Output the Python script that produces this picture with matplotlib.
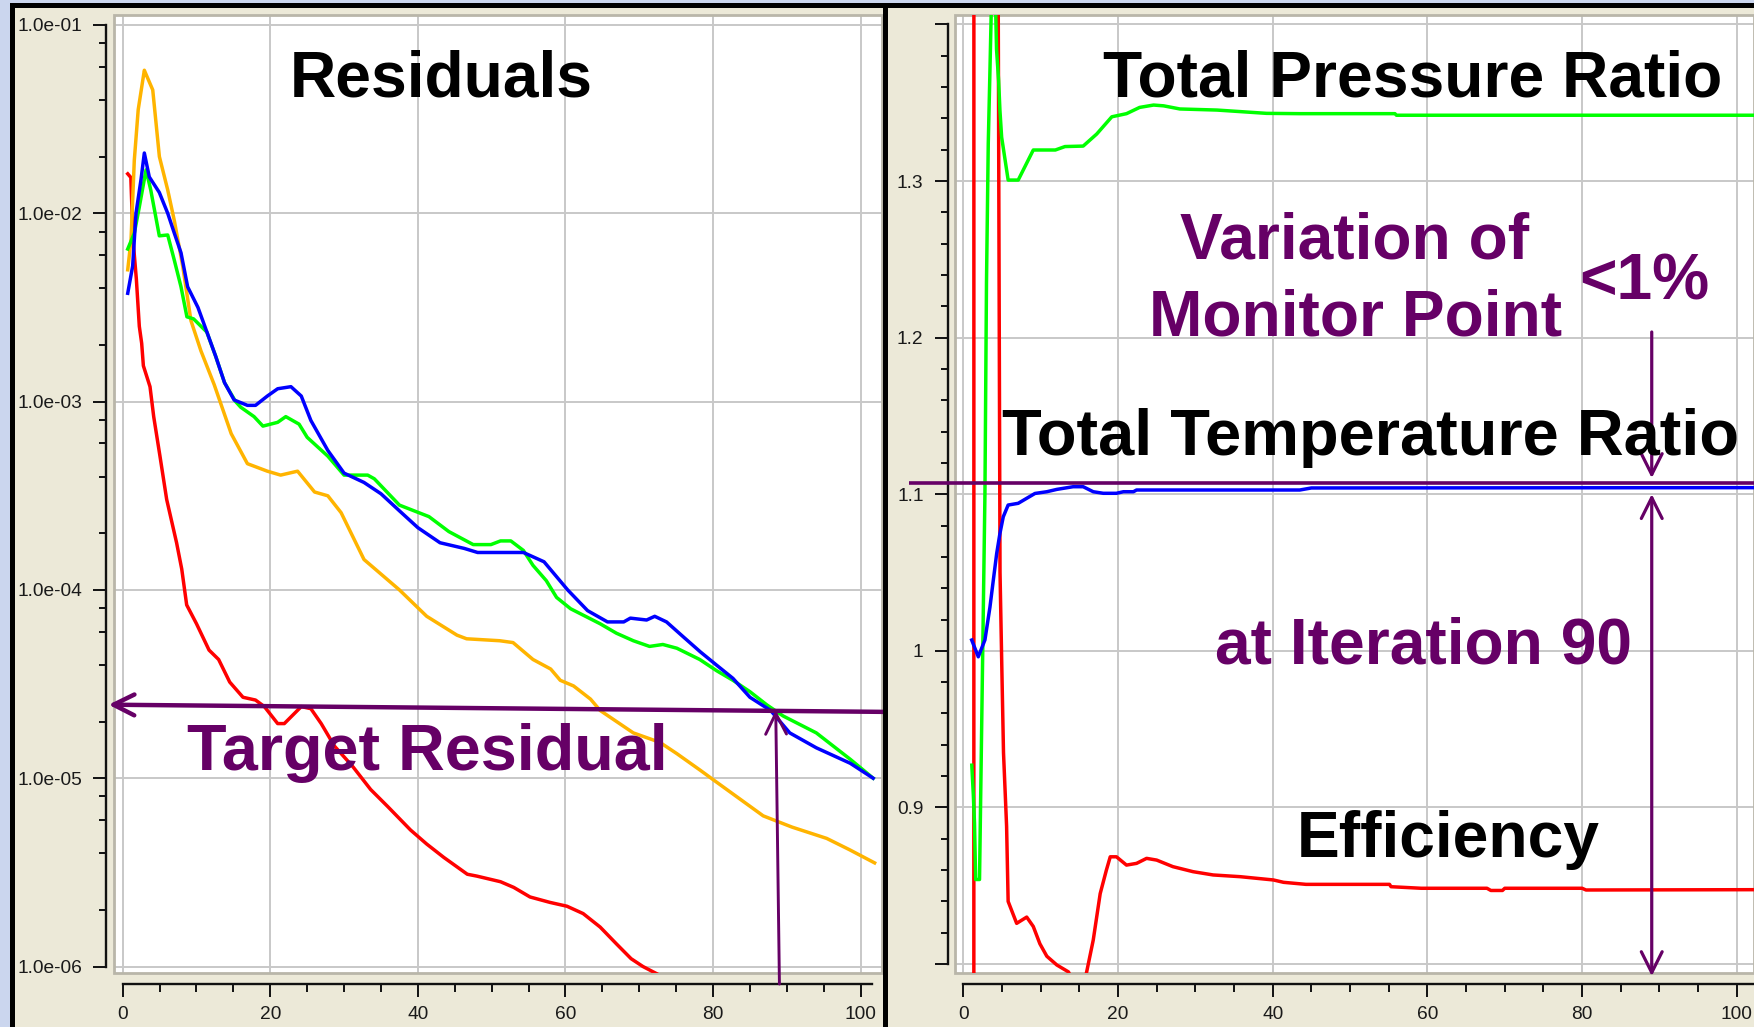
import matplotlib
matplotlib.use("Agg")
import matplotlib.pyplot as plt
from matplotlib.patches import Rectangle
from matplotlib.ticker import (MultipleLocator, FixedLocator, LogLocator,
                               FuncFormatter, NullFormatter)

plt.rcParams['font.family'] = ['Liberation Sans', 'DejaVu Sans']

# ------------------------------------------------------------------
# Left panel: residual histories (iteration, residual)
# ------------------------------------------------------------------
red_res_x = [0.68, 1.1, 1.4, 1.85, 2.25, 2.57, 2.8, 3.7, 4.2, 5.05,
             5.96, 7.3, 8.0, 8.67, 10.0, 11.7, 13.0, 14.5, 16.3, 18.0,
             19.2, 21.0, 21.9, 24.2, 25.5, 26.9, 28.7, 31.2, 33.6, 35.9,
             39.0, 41.2, 43.5, 46.7, 48.0, 51.2, 53.0, 55.2, 57.9, 60.2,
             62.4, 64.7, 66.9, 68.9, 70.5, 72.5, 74.0]
red_res = [1.62e-2, 1.55e-2, 7.24e-3, 4.47e-3, 2.51e-3, 2.04e-3, 1.55e-3, 1.20e-3, 8.32e-4, 5.13e-4,
           3.02e-4, 1.78e-4, 1.29e-4, 8.32e-5, 6.61e-5, 4.79e-5, 4.27e-5, 3.24e-5, 2.69e-5, 2.60e-5,
           2.40e-5, 1.95e-5, 1.95e-5, 2.40e-5, 2.34e-5, 1.95e-5, 1.48e-5, 1.15e-5, 8.71e-6, 7.08e-6,
           5.31e-6, 4.47e-6, 3.80e-6, 3.09e-6, 3.02e-6, 2.82e-6, 2.63e-6, 2.34e-6, 2.19e-6, 2.09e-6,
           1.91e-6, 1.62e-6, 1.32e-6, 1.10e-6, 1.00e-6, 9.1e-7, 7.6e-7]

orange_res_x = [0.68, 1.13, 1.57, 2.1, 2.93, 3.25, 4.07, 4.97, 6.1, 7.0,
                8.13, 9.25, 10.6, 12.4, 14.7, 16.9, 19.6, 21.4, 23.7, 26.0,
                27.8, 29.6, 32.7, 37.5, 41.2, 45.3, 46.6, 51.1, 52.9, 55.6,
                58.0, 59.3, 61.1, 63.4, 64.7, 69.2, 72.8, 75.1, 78.3, 80.1,
                86.8, 90.7, 95.4, 98.5, 101.9]
orange_res = [5.01e-3, 7.24e-3, 1.91e-2, 3.55e-2, 5.75e-2, 5.37e-2, 4.52e-2, 2.00e-2, 1.33e-2, 9.12e-3,
              5.25e-3, 2.69e-3, 1.86e-3, 1.23e-3, 6.76e-4, 4.68e-4, 4.27e-4, 4.07e-4, 4.27e-4, 3.31e-4,
              3.16e-4, 2.57e-4, 1.45e-4, 1.00e-4, 7.24e-5, 5.75e-5, 5.50e-5, 5.37e-5, 5.25e-5, 4.27e-5,
              3.80e-5, 3.31e-5, 3.09e-5, 2.63e-5, 2.29e-5, 1.74e-5, 1.55e-5, 1.35e-5, 1.10e-5, 9.77e-6,
              6.31e-6, 5.50e-6, 4.79e-6, 4.17e-6, 3.55e-6]

green_res_x = [0.68, 1.57, 2.25, 3.16, 3.8, 4.96, 6.1, 7.0, 7.9, 8.7,
               9.6, 11.4, 12.6, 13.8, 15.3, 16.0, 17.8, 19.0, 21.0, 22.1,
               23.9, 25.0, 27.8, 30.0, 33.2, 34.1, 37.5, 41.5, 44.2, 47.5,
               49.9, 51.2, 52.6, 54.3, 55.6, 57.4, 58.8, 60.7, 64.7, 66.9,
               69.2, 71.4, 73.2, 75.1, 78.2, 80.5, 82.7, 85.0, 87.3, 89.5,
               94.0, 98.6, 101.7]
green_res = [6.46e-3, 7.83e-3, 1.08e-2, 1.70e-2, 1.33e-2, 7.59e-3, 7.67e-3, 5.62e-3, 4.07e-3, 2.82e-3,
             2.75e-3, 2.34e-3, 1.74e-3, 1.26e-3, 1.00e-3, 9.33e-4, 8.32e-4, 7.41e-4, 7.76e-4, 8.32e-4,
             7.59e-4, 6.46e-4, 5.13e-4, 4.07e-4, 4.07e-4, 3.89e-4, 2.82e-4, 2.45e-4, 2.04e-4, 1.74e-4,
             1.74e-4, 1.82e-4, 1.82e-4, 1.62e-4, 1.35e-4, 1.12e-4, 9.12e-5, 7.94e-5, 6.61e-5, 5.89e-5,
             5.37e-5, 5.01e-5, 5.13e-5, 4.90e-5, 4.27e-5, 3.72e-5, 3.31e-5, 2.88e-5, 2.45e-5, 2.14e-5,
             1.74e-5, 1.26e-5, 1.00e-5]

blue_res_x = [0.68, 1.35, 1.8, 2.48, 2.93, 3.6, 4.96, 6.1, 7.0, 7.9,
              8.8, 10.2, 11.5, 12.6, 13.8, 15.1, 16.9, 18.0, 19.6, 21.0,
              22.8, 24.2, 25.5, 27.8, 30.0, 32.7, 35.0, 37.5, 40.0, 43.0,
              46.3, 48.1, 51.6, 54.3, 57.1, 60.3, 63.0, 65.7, 67.9, 68.8,
              71.0, 72.1, 73.7, 76.0, 78.3, 80.5, 82.7, 85.0, 87.8, 90.4,
              94.0, 98.6, 101.7]
blue_res = [3.76e-3, 5.25e-3, 1.00e-2, 1.51e-2, 2.09e-2, 1.56e-2, 1.29e-2, 1.00e-2, 7.83e-3, 6.17e-3,
            4.07e-3, 3.16e-3, 2.29e-3, 1.74e-3, 1.26e-3, 1.02e-3, 9.55e-4, 9.55e-4, 1.07e-3, 1.17e-3,
            1.20e-3, 1.07e-3, 7.94e-4, 5.50e-4, 4.17e-4, 3.72e-4, 3.24e-4, 2.63e-4, 2.14e-4, 1.78e-4,
            1.66e-4, 1.58e-4, 1.58e-4, 1.58e-4, 1.41e-4, 1.00e-4, 7.76e-5, 6.76e-5, 6.76e-5, 7.08e-5,
            6.92e-5, 7.24e-5, 6.76e-5, 5.62e-5, 4.68e-5, 3.98e-5, 3.39e-5, 2.69e-5, 2.29e-5, 1.74e-5,
            1.45e-5, 1.20e-5, 1.00e-5]

# ------------------------------------------------------------------
# Right panel: monitor points (iteration, value)
# ------------------------------------------------------------------
pressure_x = [1.1, 1.3, 1.45, 1.6, 2.1, 2.8, 3.0, 3.23, 3.45, 3.8,
              4.0, 4.3, 4.57, 4.74, 4.96, 5.8, 7.1, 9.05, 11.9, 13.15,
              15.5, 17.25, 19.2, 21.1, 22.8, 24.6, 25.9, 28.0, 32.8, 39.2,
              43.5, 55.8, 56.0, 102.5]
pressure = [0.927, 0.908, 0.890, 0.854, 0.854, 1.100, 1.235, 1.324, 1.371, 1.45,
            1.45, 1.384, 1.364, 1.345, 1.328, 1.3006, 1.3006, 1.3198, 1.3198, 1.322,
            1.3223, 1.330, 1.341, 1.343, 1.347, 1.3485, 1.348, 1.346, 1.3453, 1.3432,
            1.343, 1.343, 1.342, 1.342]

temperature_x = [1.09, 1.94, 2.8, 3.45, 3.88, 4.32, 4.74, 5.17, 5.8, 7.1,
                 8.2, 9.27, 10.8, 12.1, 14.2, 15.5, 16.8, 18.1, 19.8, 20.7,
                 22.0, 22.4, 43.5, 45.0, 102.5]
temperature = [1.0069, 0.9962, 1.007, 1.028, 1.045, 1.0622, 1.075, 1.0856, 1.0931, 1.0942,
               1.0974, 1.1005, 1.1016, 1.1031, 1.1048, 1.1048, 1.1016, 1.1006, 1.1006, 1.1016,
               1.1016, 1.1027, 1.1027, 1.1040, 1.1042]

efficiency_x = [1.0, 1.8, 4.4, 4.75, 5.0, 5.2, 5.6, 5.8, 6.9, 8.2,
                9.05, 9.9, 10.8, 12.1, 13.6, 14.5, 15.5, 15.95, 16.8, 17.7,
                18.5, 19.0, 19.8, 21.1, 22.4, 23.7, 25.0, 27.1, 29.7, 32.3,
                35.8, 40.1, 41.4, 44.3, 55.1, 55.3, 59.2, 67.7, 68.2, 69.7,
                70.0, 80.0, 80.5, 102.5]
efficiency = [-45.0, 55.0, 1.60, 1.05, 0.985, 0.935, 0.888, 0.840, 0.826, 0.830,
              0.824, 0.813, 0.805, 0.7994, 0.795, 0.785, 0.785, 0.795, 0.8153, 0.845,
              0.860, 0.8685, 0.8685, 0.8632, 0.8643, 0.8675, 0.8664, 0.8622, 0.859, 0.8569,
              0.8558, 0.8537, 0.8522, 0.8509, 0.8509, 0.8494, 0.8484, 0.8484, 0.847, 0.847,
              0.8484, 0.8484, 0.8473, 0.8475]

# tick labels
left_xticks = [0, 20, 40, 60, 80, 100]
right_ytick_values = [0.8, 0.9, 1.0, 1.1, 1.2, 1.3, 1.4]
right_ytick_labels = ['', '0.9', '1', '1.1', '1.2', '1.3', '']

# annotation anchors (data units)
target_start = (-1.92, 2.457e-5)
target_end = (103.2, 2.25e-5)
target_iter_bottom = (89.0, 8.07e-7)
target_iter_top = (88.5, 2.30e-5)
monitor_level = 1.107
monitor_line_x = (-7.0, 102.5)
monitor_iter = 89.0
pct_arrow = (1.2036, 1.1103)
iter_arrow = (1.1001, 0.7923)

# ------------------------------------------------------------------
W, H = 1754, 1027
PURPLE = '#660066'
fig = plt.figure(figsize=(W / 100, H / 100), dpi=100)
fig.patch.set_facecolor('#cbd6ee')


def frac_rect(x0, y0, x1, y1):
    return [x0 / W, 1 - y1 / H, (x1 - x0) / W, (y1 - y0) / H]


def add_block(x0, y0, x1, y1, color, z=-5):
    fig.add_artist(Rectangle((x0 / W, 1 - y1 / H), (x1 - x0) / W, (y1 - y0) / H,
                             transform=fig.transFigure, facecolor=color,
                             edgecolor='none', zorder=z))


add_block(15, 8, W, H, '#ece9d8')
add_block(10, 3, W, 8, 'black')
add_block(10, 3, 15, H, 'black')
add_block(883, 3, 888, H, 'black', z=5)

axL = fig.add_axes(frac_rect(114, 15, 882, 973))
axR = fig.add_axes(frac_rect(955, 15, W, 973))


def style(ax, left_out, bottom_out, ypad):
    ax.set_facecolor('white')
    for s in ('top', 'right'):
        ax.spines[s].set_visible(False)
    for s in ('left', 'bottom'):
        ax.spines[s].set_color('#111111')
        ax.spines[s].set_linewidth(1.7)
    ax.spines['left'].set_position(('outward', left_out))
    ax.spines['bottom'].set_position(('outward', bottom_out))
    ax.grid(True, which='major', color='#c8c8c8', lw=1.4)
    ax.set_axisbelow(True)
    ax.tick_params(which='major', length=9.4, width=1.4, color='#111111',
                   labelsize=13.8, labelcolor='#1a1a1a')
    ax.tick_params(which='minor', length=5.4, width=1.4, color='#111111')
    ax.tick_params(axis='x', which='major', pad=6.2)
    ax.tick_params(axis='y', which='major', pad=ypad)
    ax.add_artist(Rectangle((0, 0), 1, 1, transform=ax.transAxes, fill=False,
                            edgecolor='#b9b6a9', lw=2.0, clip_on=False, zorder=0.6))


style(axL, 5.8, 7.9, 7.4)
style(axR, 5.0, 7.9, 8.2)

# ---------------- left panel ----------------
lw = 2.5
axL.set_yscale('log')
axL.plot(red_res_x, red_res, color='#ff0000', lw=lw)
axL.plot(orange_res_x, orange_res, color='#ffb400', lw=lw)
axL.plot(green_res_x, green_res, color='#00ff00', lw=lw)
axL.plot(blue_res_x, blue_res, color='#0000ff', lw=lw)
axL.set_xlim(-1.18, 102.9)
axL.set_ylim(10 ** -6.0345, 10 ** -0.947)
axL.xaxis.set_major_locator(FixedLocator(left_xticks))
axL.xaxis.set_minor_locator(MultipleLocator(5))
axL.yaxis.set_major_locator(LogLocator(base=10, numticks=20))
axL.yaxis.set_minor_locator(LogLocator(base=10, subs=(2, 4, 6, 8), numticks=20))
axL.yaxis.set_major_formatter(FuncFormatter(lambda v, p: f'{v:.1e}'))
axL.yaxis.set_minor_formatter(NullFormatter())
axL.spines['left'].set_bounds(1e-6, 1e-1)
axL.spines['bottom'].set_bounds(0, 101.6)

# ---------------- right panel ----------------
axR.plot(efficiency_x, efficiency, color='#ff0000', lw=lw)
axR.plot(pressure_x, pressure, color='#00ff00', lw=lw)
axR.plot(temperature_x, temperature, color='#0000ff', lw=lw)
axR.set_xlim(-1.07, 102.22)
axR.set_ylim(0.7943, 1.406)
axR.xaxis.set_major_locator(FixedLocator(left_xticks))
axR.xaxis.set_minor_locator(MultipleLocator(5))
axR.yaxis.set_major_locator(FixedLocator(right_ytick_values))
axR.yaxis.set_major_formatter(FuncFormatter(
    lambda v, p: dict(zip([round(t, 2) for t in right_ytick_values], right_ytick_labels)).get(round(v, 2), '')))
axR.yaxis.set_minor_locator(MultipleLocator(0.02))
axR.spines['left'].set_bounds(0.8, 1.4)
axR.spines['bottom'].set_bounds(0, 102.22)


# ---------------- annotations ----------------
def arrow(ax, start, end, style, lw_):
    ax.annotate('', xy=end, xytext=start, xycoords='data', textcoords='data',
                arrowprops=dict(arrowstyle=style, color=PURPLE, lw=lw_,
                                shrinkA=0, shrinkB=0, mutation_scale=1),
                annotation_clip=False, zorder=6)


head = '->,head_length=15,head_width=7.5'
arrow(axL, target_end, target_start, head, 3.2)
arrow(axL, target_iter_bottom, target_iter_top, head, 2.1)

axR.plot(monitor_line_x, [monitor_level, monitor_level], color=PURPLE, lw=2.6,
         clip_on=False, zorder=6, solid_capstyle='butt')
arrow(axR, (monitor_iter, pct_arrow[0]), (monitor_iter, pct_arrow[1]), head, 2.3)
arrow(axR, (monitor_iter, iter_arrow[0]), (monitor_iter, iter_arrow[1]),
      '<->,head_length=15,head_width=7.5', 2.3)

# ---------------- texts ----------------
FS = 46.2


def label(x, y, s, color='black', size=FS, ha='left'):
    fig.text(x / W, 1 - y / H, s, fontsize=size, fontweight='bold', color=color,
             ha=ha, va='baseline', zorder=10)


label(290, 96.7, 'Residuals')
label(187, 770, 'Target Residual', PURPLE, 46.6)
label(1103, 96.7, 'Total Pressure Ratio')
label(1355, 258.3, 'Variation of', PURPLE, ha='center')
label(1356, 335, 'Monitor Point', PURPLE, ha='center')
label(1579, 300, '<1%', PURPLE)
label(1002, 455, 'Total Temperature Ratio', size=46.8)
label(1215, 663, 'at Iteration 90', PURPLE)
label(1297, 856.7, 'Efficiency')

fig.savefig('out.png', dpi=100, facecolor=fig.get_facecolor())
